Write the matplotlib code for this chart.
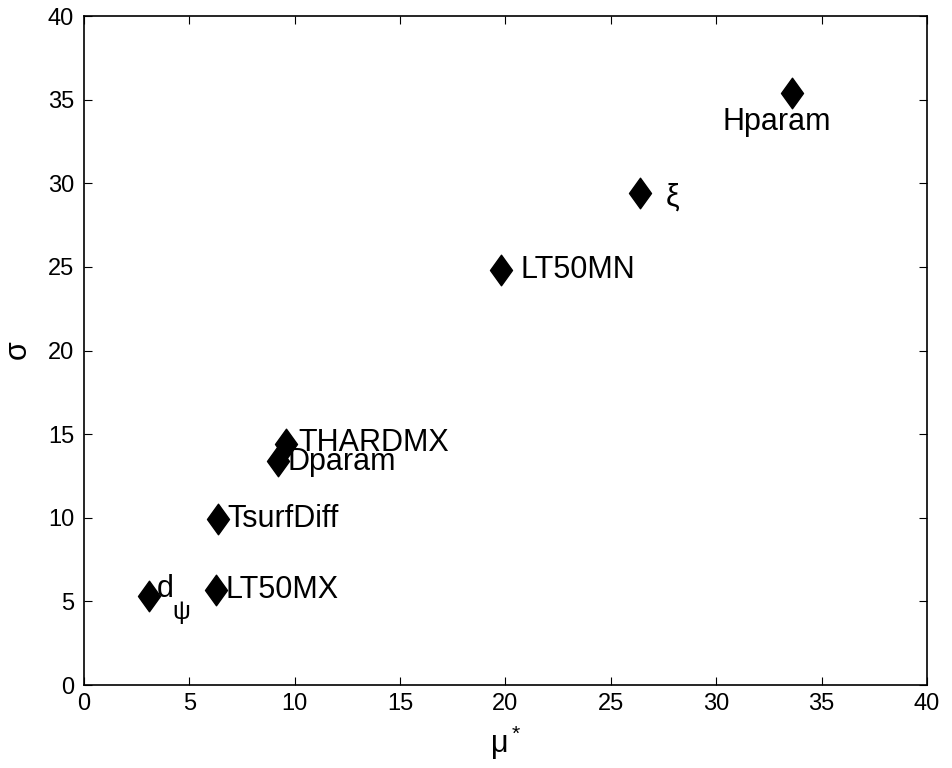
"""Sensitivity scatter: mu* vs sigma for each parameter"""

import matplotlib
matplotlib.use('Agg')
from matplotlib import pyplot as plt
from matplotlib.path import Path

plt.rcParams['font.family'] = ['Liberation Sans', 'DejaVu Sans']
plt.rcParams['mathtext.fontset'] = 'custom'
plt.rcParams['mathtext.rm'] = 'Liberation Sans'
plt.rcParams['mathtext.it'] = 'Liberation Sans'

# data
names = ['Hparam', 'ξ', 'LT50MN', 'THARDMX', 'Dparam',
         'TsurfDiff', 'LT50MX', 'd']
mu_star = [33.6, 26.4, 19.8, 9.6, 9.2, 6.35, 6.25, 3.08]
sigma = [35.4, 29.4, 24.8, 14.4, 13.4, 9.9, 5.7, 5.3]

# label placement (offset in points, horizontal alignment)
offsets = [(-11, -21), (18, -3), (14, 0), (9, 1), (7, -1), (7, 0), (7, 0), (6, 5)]
aligns = ['center', 'left', 'left', 'left', 'left', 'left', 'left', 'left']

diamond = Path([(0, 1), (0.72, 0), (0, -1), (-0.72, 0), (0, 1)],
               [Path.MOVETO, Path.LINETO, Path.LINETO, Path.LINETO, Path.CLOSEPOLY])

fig = plt.figure(figsize=(9.53, 7.68), dpi=100)
ax = fig.add_axes([0.088, 0.108, 0.8846, 0.871])

ax.plot(mu_star, sigma, linestyle='none', marker=diamond, markersize=22,
        color='black')

for name, x, y, off, ha in zip(names, mu_star, sigma, offsets, aligns):
    ax.annotate(name, (x, y), xytext=off, textcoords='offset points',
                ha=ha, va='center', fontsize=22)

# subscript psi of the d_psi label, drawn lower like MATLAB does
ax.annotate('ψ', (mu_star[-1], sigma[-1]), xytext=(17, -11),
            textcoords='offset points', ha='left', va='center', fontsize=18)

ax.set_xlim(0, 40)
ax.set_ylim(0, 40)
ax.set_xticks(range(0, 41, 5))
ax.set_yticks(range(0, 41, 5))
ax.tick_params(direction='in', top=True, right=True, labelsize=17, length=6)
ax.tick_params(axis='x', pad=6)
ax.tick_params(axis='y', pad=7)
for s in ax.spines.values():
    s.set_linewidth(1.2)

ax.set_xlabel(r'$\mathregular{\mu^*}$', fontsize=22, labelpad=6)
ax.set_ylabel(r'$\mathregular{\sigma}$', fontsize=22, labelpad=10)

fig.savefig('out.png', dpi=100)
